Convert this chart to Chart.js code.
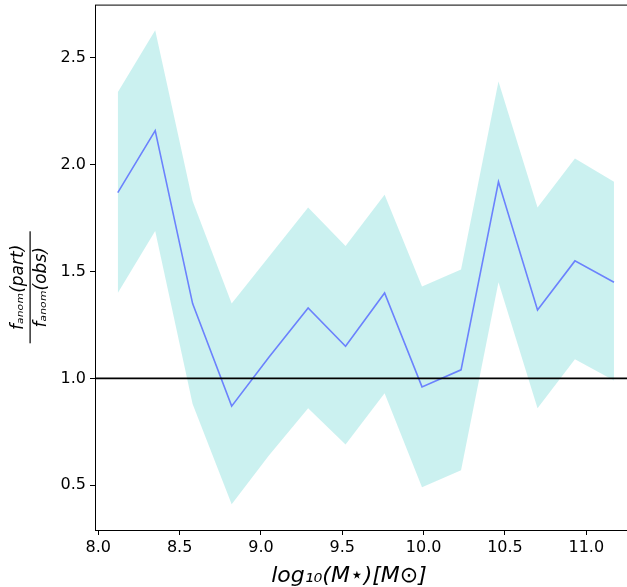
<!DOCTYPE html>
<html lang="en">
<head>
  <meta charset="utf-8">
  <title>f_anom ratio</title>
  <script src="https://cdn.jsdelivr.net/npm/chart.js"></script>
  <style>
    html, body { margin: 0; padding: 0; background: #fff; overflow: hidden; }
    #wrap { width: 627px; height: 596px; margin-top: -9px; }
  </style>
</head>
<body>
<div id="wrap"><canvas id="chart"></canvas></div>
<script>
  const massBins = [8.12, 8.35, 8.58, 8.82, 9.05, 9.29, 9.52, 9.76, 9.99, 10.23, 10.46, 10.70, 10.93, 11.17];
  const ratio = [1.87, 2.16, 1.35, 0.87, 1.10, 1.33, 1.15, 1.40, 0.96, 1.04, 1.92, 1.32, 1.55, 1.45];
  const upper = [2.34, 2.63, 1.83, 1.35, 1.57, 1.80, 1.62, 1.86, 1.43, 1.51, 2.39, 1.80, 2.03, 1.92];
  const lower = [1.40, 1.69, 0.88, 0.41, 0.64, 0.86, 0.69, 0.93, 0.49, 0.57, 1.45, 0.86, 1.09, 0.99];
  const xTicks = [8.0, 8.5, 9.0, 9.5, 10.0, 10.5, 11.0];
  const yTicks = [0.5, 1.0, 1.5, 2.0, 2.5];
  const xRange = [7.98, 11.25];
  const yRange = [0.29, 2.75];

  const pts = (ys) => massBins.map((x, i) => ({ x: x, y: ys[i] }));

  const frameAndTitles = {
    id: 'frameAndTitles',
    afterDraw: (chart) => {
      const { ctx, chartArea: { top, bottom, left, right } } = chart;
      ctx.save();
      ctx.strokeStyle = '#000';
      ctx.lineWidth = 1;
      ctx.strokeRect(left + 0.5, top + 0.5, right - left, bottom - top);
      ctx.fillStyle = '#000';
      ctx.textAlign = 'center';
      ctx.textBaseline = 'alphabetic';
      ctx.font = 'italic 22px "DejaVu Sans"';
      ctx.fillText('log\u2081\u2080(M\u22C6)[M\u2299]', (left + right) / 2 - 12, bottom + 52);
      ctx.translate(30, (top + bottom) / 2 + 20);
      ctx.rotate(-Math.PI / 2);
      ctx.font = 'italic 17px "DejaVu Sans"';
      ctx.textBaseline = 'bottom';
      ctx.fillText('f\u2090\u2099\u2092\u2098(part)', 0, -3);
      ctx.textBaseline = 'top';
      ctx.fillText('f\u2090\u2099\u2092\u2098(obs)', 0, 3);
      ctx.fillRect(-56, -0.5, 112, 1.2);
      ctx.restore();
    }
  };

  const tickStyle = { display: true, drawOnChartArea: false, drawTicks: true, tickLength: 5, color: '#000', tickColor: '#000' };

  new Chart(document.getElementById('chart'), {
    type: 'scatter',
    data: {
      datasets: [
        { data: pts(upper), showLine: true, borderWidth: 0, pointRadius: 0, fill: false, tension: 0, order: 3 },
        { data: pts(lower), showLine: true, borderWidth: 0, pointRadius: 0, fill: '-1',
          backgroundColor: 'rgba(160,230,228,0.55)', tension: 0, order: 2 },
        { data: pts(ratio), showLine: true, borderColor: 'rgba(90,110,255,0.85)', borderWidth: 1.6,
          pointRadius: 0, fill: false, tension: 0, order: 1 },
        { data: [{ x: xRange[0], y: 1.0 }, { x: xRange[1], y: 1.0 }], showLine: true,
          borderColor: '#000', borderWidth: 1.6, pointRadius: 0, fill: false, order: 0 }
      ]
    },
    options: {
      responsive: true,
      maintainAspectRatio: false,
      animation: false,
      layout: { padding: 0 },
      plugins: { legend: { display: false }, tooltip: { enabled: false } },
      scales: {
        x: {
          type: 'linear', min: xRange[0], max: xRange[1],
          grid: tickStyle,
          border: { display: false },
          afterBuildTicks: (axis) => { axis.ticks = xTicks.map(v => ({ value: v })); },
          afterFit: (axis) => { axis.height = 57; },
          ticks: { color: '#000', font: { size: 16, family: 'DejaVu Sans' },
            callback: (v) => v.toFixed(1), maxRotation: 0, padding: 3 }
        },
        y: {
          min: yRange[0], max: yRange[1],
          grid: tickStyle,
          border: { display: false },
          afterBuildTicks: (axis) => { axis.ticks = yTicks.map(v => ({ value: v })); },
          afterFit: (axis) => { axis.width = 95; },
          ticks: { color: '#000', font: { size: 16, family: 'DejaVu Sans' },
            callback: (v) => v.toFixed(1), padding: 4 }
        }
      }
    },
    plugins: [frameAndTitles]
  });
</script>
</body>
</html>
